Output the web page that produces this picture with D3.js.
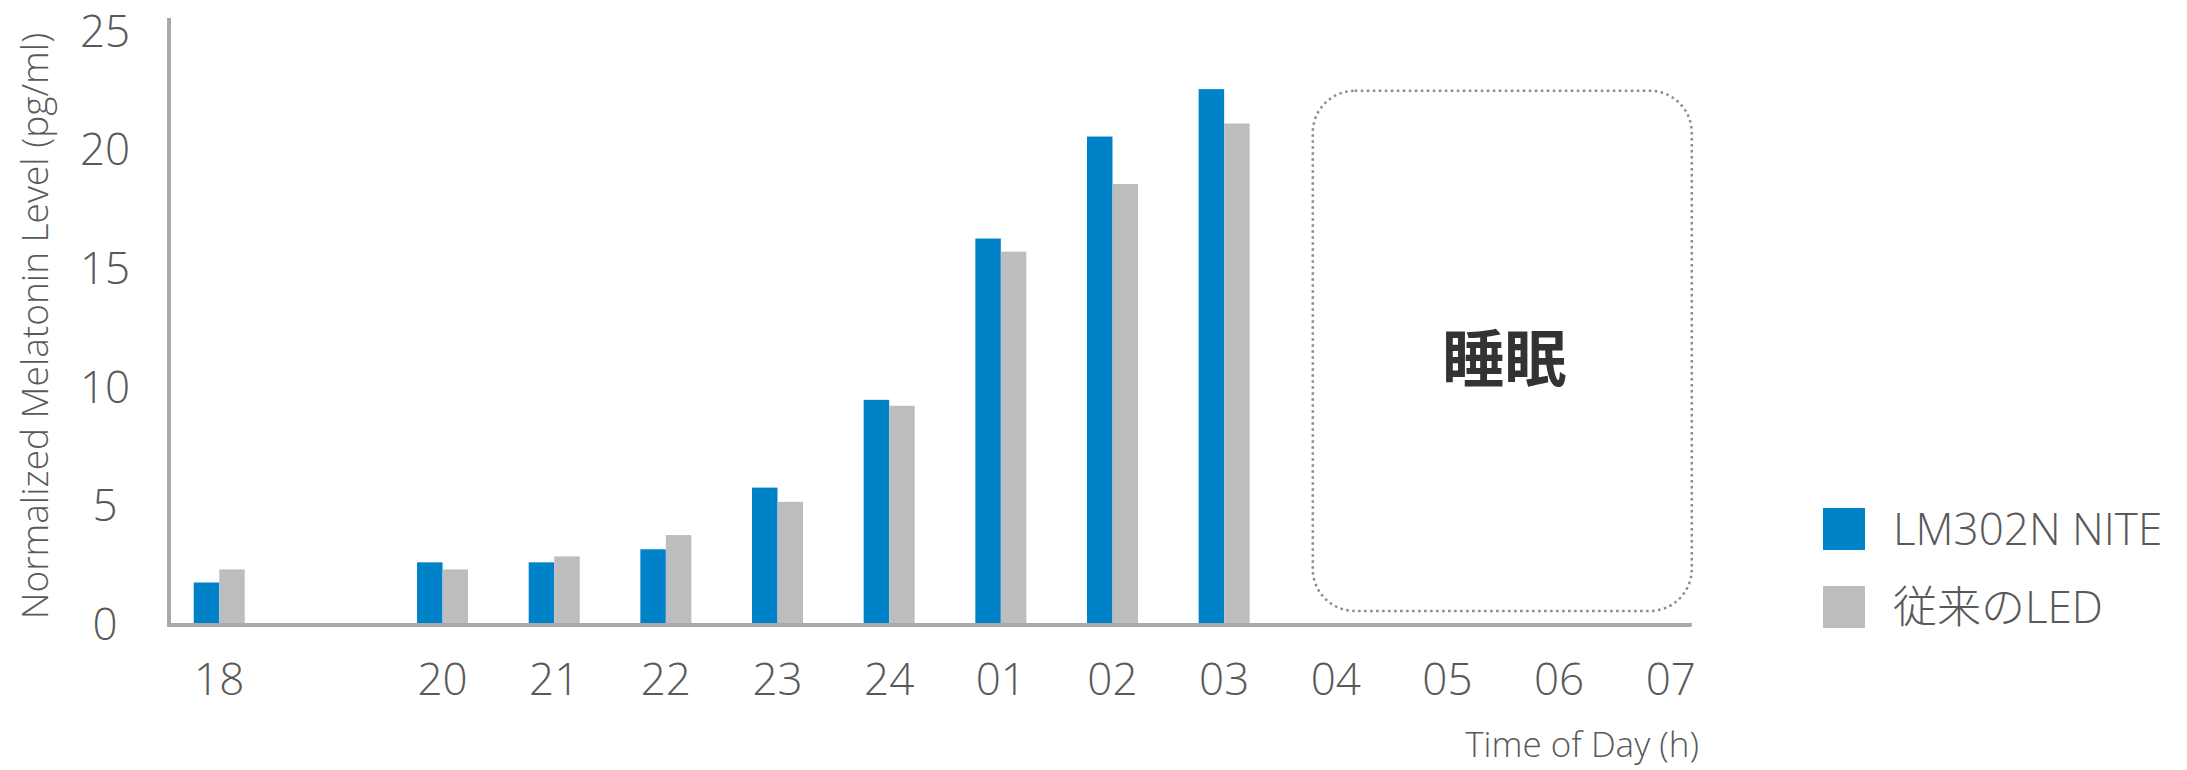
<!DOCTYPE html>
<html>
<head>
<meta charset="utf-8">
<script src="https://cdn.jsdelivr.net/npm/d3@7"></script>
<style>
  html, body { margin: 0; padding: 0; background: #fff; }
  svg { display: block; }
  text { font-family: "Open Sans", "Noto Sans CJK JP", sans-serif; fill: #58595b; }
</style>
</head>
<body>
<svg id="chart" width="2187" height="770"></svg>
<script>
// ---- data ----
const hours = ["18","19","20","21","22","23","24","01","02","03","04","05","06","07"];
const hourLabels = ["18","","20","21","22","23","24","01","02","03","04","05","06","07"];
const seriesNames = ["LM302N NITE", "従来のLED"];
const niteValues = [1.75, null, 2.6, 2.6, 3.15, 5.75, 9.45, 16.25, 20.55, 22.55, null, null, null, null];
const convValues = [2.3, null, 2.3, 2.85, 3.75, 5.15, 9.2, 15.7, 18.55, 21.1, null, null, null, null];
const yTicks = [0, 5, 10, 15, 20, 25];
const sleepLabel = "睡眠";
const sleepHours = ["04", "07"];
const xTitle = "Time of Day (h)";
const yTitle = "Normalized Melatonin Level (pg/ml)";

// ---- styles ----
const colors = ["#0082c8", "#bcbdbf"];
const axisColor = "#a7a9ac";

const svg = d3.select("#chart");

const x = d3.scaleBand().domain(hours).range([163.4, 1726.6]).padding(0);
const xc = h => x(h) + x.bandwidth() / 2;
const inner = d3.scaleBand().domain([0, 1]).range([-25.5, 25.5]).padding(0);
const y = d3.scaleLinear().domain([0, 25]).range([624, 31]);

// bars
const rows = hours.map((h, i) => ({ h, v: [niteValues[i], convValues[i]] }));
const g = svg.append("g");
rows.forEach(r => {
  r.v.forEach((v, k) => {
    if (v == null) return;
    g.append("rect")
      .attr("x", xc(r.h) + inner(k))
      .attr("width", inner.bandwidth())
      .attr("y", y(v))
      .attr("height", y(0) - y(v))
      .attr("fill", colors[k]);
  });
});

// axes lines
svg.append("line")
  .attr("x1", 169).attr("x2", 169)
  .attr("y1", 18).attr("y2", y(0) + 2)
  .attr("stroke", axisColor).attr("stroke-width", 4);
svg.append("line")
  .attr("x1", 167).attr("x2", xc("07") + 21)
  .attr("y1", y(0) + 1).attr("y2", y(0) + 1)
  .attr("stroke", axisColor).attr("stroke-width", 4);

// y tick labels
svg.append("g").selectAll("text").data(yTicks).join("text")
  .attr("x", 105).attr("y", d => y(d))
  .attr("dy", "0.36em")
  .attr("text-anchor", "middle")
  .style("font-size", "44px")
  .style("font-weight", "300")
  .text(d => d);

// x tick labels
svg.append("g").selectAll("text").data(hours).join("text")
  .attr("x", d => xc(d)).attr("y", 679)
  .attr("dy", "0.36em")
  .attr("text-anchor", "middle")
  .style("font-size", "44px")
  .style("font-weight", "300")
  .text((d, i) => hourLabels[i]);

// axis titles
svg.append("text")
  .attr("transform", "translate(35," + ((y(0) + 18) / 2 + 5) + ") rotate(-90)")
  .attr("text-anchor", "middle")
  .attr("dy", "0.35em")
  .style("font-size", "37px")
  .style("font-weight", "300")
  .text(yTitle);

svg.append("text")
  .attr("x", 1699).attr("y", 745)
  .attr("dy", "0.35em")
  .attr("text-anchor", "end")
  .style("font-size", "35px")
  .style("font-weight", "300")
  .text(xTitle);

// sleep box
const bx0 = xc(sleepHours[0]) - 23;
const bx1 = xc(sleepHours[1]) + 21;
const by0 = y(22.48), by1 = y(0.55);
svg.append("rect")
  .attr("x", bx0).attr("y", by0)
  .attr("width", bx1 - bx0).attr("height", by1 - by0)
  .attr("rx", 42).attr("ry", 42)
  .attr("fill", "none")
  .attr("stroke", "#8a8b8d")
  .attr("stroke-width", 2.5)
  .attr("stroke-dasharray", "2.5 3.5");
svg.append("text")
  .attr("x", (bx0 + bx1) / 2 + 2).attr("y", 360)
  .attr("dy", "0.36em")
  .attr("text-anchor", "middle")
  .style("font-family", "'Noto Sans CJK JP', sans-serif")
  .style("font-weight", "700")
  .style("font-size", "62px")
  .style("fill", "#333333")
  .text(sleepLabel);

// legend
const leg = svg.append("g");
seriesNames.forEach((name, k) => {
  const cy = 529 + k * 78;
  leg.append("rect")
    .attr("x", 1823).attr("y", cy - 21)
    .attr("width", 42).attr("height", 42)
    .attr("fill", colors[k]);
  leg.append("text")
    .attr("x", 1893).attr("y", cy)
    .attr("dy", "0.36em")
    .style("font-size", "44px")
    .style("font-weight", "300")
    .text(name);
});
</script>
</body>
</html>
